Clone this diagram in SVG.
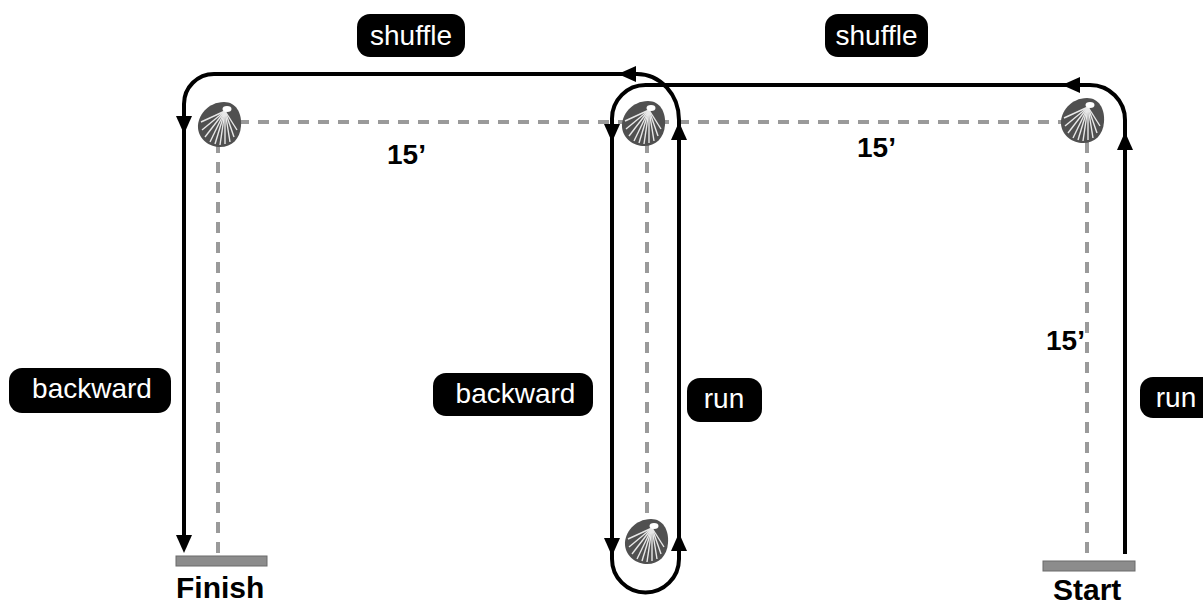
<svg xmlns="http://www.w3.org/2000/svg" xmlns:xlink="http://www.w3.org/1999/xlink" width="1203" height="606" viewBox="0 0 1203 606">
<style>
.dash{fill:none;stroke:#9a9a9a;stroke-width:4;stroke-dasharray:11 9}
.route{fill:none;stroke:#000;stroke-width:4;stroke-linejoin:round}
.lbl rect{fill:#000}
.lbl text{fill:#fff;font-family:"Liberation Sans",Arial,sans-serif;font-size:28px;text-anchor:middle}
.dim{fill:#000;font-family:"Liberation Sans",Arial,sans-serif;font-size:28px;font-weight:bold}
.end{fill:#000;font-family:"Liberation Sans",Arial,sans-serif;font-size:30px;font-weight:bold}
.bar{fill:#8c8c8c;stroke:#6a6a6a;stroke-width:1}
</style>
<defs>
<path id="ah" d="M0,0 L-18,-8 L-18,8 Z" fill="#000"/>
<g id="shell">
<path d="M5,-22 C-11,-22 -22,-8 -21,4 C-20,16 -9,23 1,23 C13,23 21,15 22,2 C23,-11 17,-22 5,-22 Z" fill="#505050"/>
<g stroke="#e8e8e8" stroke-width="1.4" fill="none">
<path d="M6,-13 L-18,-2"/>
<path d="M6,-13 L-17,6"/>
<path d="M6,-13 L-14,13"/>
<path d="M6,-13 L-9,18"/>
<path d="M6,-13 L-4,20"/>
<path d="M6,-13 L1,21"/>
<path d="M6,-13 L6,20"/>
<path d="M6,-13 L11,18"/>
<path d="M6,-13 L15,13"/>
<path d="M6,-13 L18,6"/>
</g>
<ellipse cx="8" cy="-15" rx="4.5" ry="3" fill="#fff"/>
</g>
</defs>

<g id="guides">
<line class="dash" x1="218" y1="122" x2="1087" y2="122"/>
<line class="dash" x1="218" y1="122" x2="218" y2="556"/>
<line class="dash" x1="647" y1="122" x2="647" y2="520"/>
<line class="dash" x1="1087" y1="122" x2="1087" y2="561"/>
</g>

<g id="connectors">
<path class="route" d="M1125,554 L1125,120 A35,35 0 0 0 1090,85 L645.5,85 A33.5,33.5 0 0 0 612,118.5 L612,548"/>
<path class="route" d="M612,548 L612,559 A33.5,33.5 0 0 0 679,559 L679,120 A42,46 0 0 0 637,74 L214,74 A30,30 0 0 0 184,104 L184,540"/>
<use xlink:href="#ah" transform="translate(1125,132) rotate(-90)"/>
<use xlink:href="#ah" transform="translate(1062,85) rotate(180)"/>
<use xlink:href="#ah" transform="translate(612,142) rotate(90)"/>
<use xlink:href="#ah" transform="translate(612,556) rotate(90)"/>
<use xlink:href="#ah" transform="translate(679,533) rotate(-90)"/>
<use xlink:href="#ah" transform="translate(679,122) rotate(-90)"/>
<use xlink:href="#ah" transform="translate(618,74) rotate(180)"/>
<use xlink:href="#ah" transform="translate(184,134) rotate(90)"/>
<use xlink:href="#ah" transform="translate(184,553) rotate(90)"/>
</g>

<g id="shell-tl"><use xlink:href="#shell" transform="translate(219,124)"/></g>
<g id="shell-tm"><use xlink:href="#shell" transform="translate(643,123)"/></g>
<g id="shell-bm"><use xlink:href="#shell" transform="translate(646,541)"/></g>
<g id="shell-r"><use xlink:href="#shell" transform="translate(1082,120)"/></g>

<g id="finish">
<rect class="bar" x="176" y="556" width="91" height="10"/>
<text class="end" x="176" y="598">Finish</text>
</g>
<g id="start">
<rect class="bar" x="1043" y="561" width="92" height="10"/>
<text class="end" x="1053" y="600">Start</text>
</g>

<g id="dims">
<text class="dim" x="387" y="164">15’</text>
<text class="dim" x="857" y="157">15’</text>
<text class="dim" x="1046" y="350">15’</text>
</g>

<g id="lbl-shuffle-l" class="lbl"><rect x="357" y="14" width="108" height="43" rx="13"/><text x="411" y="45">shuffle</text></g>
<g id="lbl-shuffle-r" class="lbl"><rect x="825" y="14" width="103" height="43" rx="13"/><text x="876.5" y="45">shuffle</text></g>
<g id="lbl-backward-l" class="lbl"><rect x="9" y="368" width="162" height="45" rx="13"/><text x="92" y="398">backward</text></g>
<g id="lbl-backward-m" class="lbl"><rect x="433" y="373" width="160" height="43" rx="13"/><text x="515.5" y="403">backward</text></g>
<g id="lbl-run-m" class="lbl"><rect x="687" y="378" width="75" height="44" rx="13"/><text x="724" y="408">run</text></g>
<g id="lbl-run-r" class="lbl"><rect x="1140" y="377" width="75" height="41" rx="13"/><text x="1176" y="407">run</text></g>
</svg>
